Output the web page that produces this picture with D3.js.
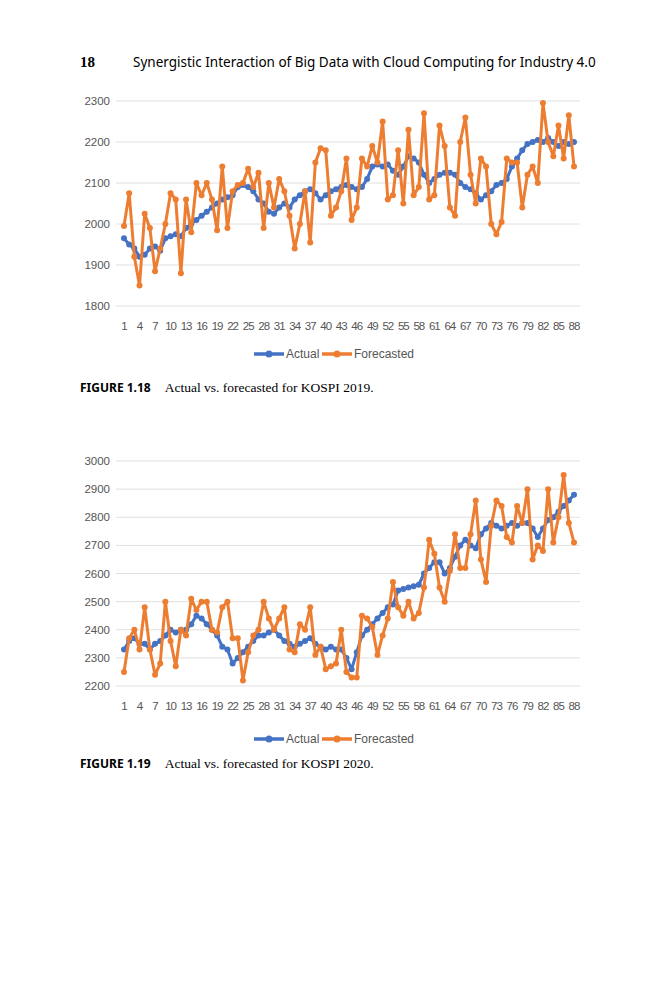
<!DOCTYPE html>
<html><head><meta charset="utf-8">
<script src="https://cdn.jsdelivr.net/npm/d3@7"></script>
<style>body{margin:0;background:#fff}</style>
</head><body><svg width="666" height="1000"></svg>
<script>
// KOSPI 2019 values
const actual2019 = [1965,1950,1940,1920,1925,1940,1945,1935,1965,1970,1975,1970,1990,2000,2010,2020,2030,2040,2050,2060,2065,2070,2090,2095,2090,2080,2060,2050,2030,2025,2040,2050,2040,2060,2070,2080,2085,2075,2060,2070,2080,2085,2090,2095,2090,2085,2090,2110,2140,2145,2140,2145,2130,2120,2140,2165,2160,2150,2120,2100,2110,2120,2125,2125,2120,2100,2090,2085,2075,2060,2070,2080,2095,2100,2110,2140,2160,2180,2195,2200,2205,2200,2210,2200,2190,2200,2195,2200];
const forecast2019 = [1995,2075,1920,1850,2025,1990,1885,1940,2000,2075,2060,1880,2060,1980,2100,2070,2100,2060,1985,2140,1990,2080,2095,2100,2135,2090,2125,1990,2100,2040,2110,2080,2020,1940,2000,2080,1955,2150,2185,2180,2020,2040,2080,2160,2010,2040,2160,2140,2190,2150,2250,2060,2070,2180,2050,2230,2070,2090,2270,2060,2070,2240,2190,2040,2020,2200,2260,2120,2050,2160,2140,2000,1975,2005,2160,2150,2150,2040,2120,2140,2100,2295,2200,2165,2240,2160,2265,2140];
// KOSPI 2020
const actual2020 = [2330,2360,2370,2350,2350,2330,2350,2360,2380,2400,2390,2400,2400,2420,2450,2440,2420,2400,2380,2340,2330,2280,2300,2320,2340,2360,2380,2380,2390,2400,2380,2360,2350,2340,2350,2360,2370,2350,2340,2330,2340,2330,2330,2300,2260,2320,2380,2400,2420,2440,2460,2480,2490,2540,2545,2550,2555,2560,2600,2620,2640,2640,2600,2620,2660,2700,2720,2700,2690,2740,2760,2780,2770,2760,2770,2780,2770,2780,2780,2760,2730,2760,2790,2800,2820,2840,2860,2880];
const forecast2020 = [2250,2370,2400,2330,2480,2330,2240,2280,2500,2360,2270,2400,2380,2510,2470,2500,2500,2400,2390,2480,2500,2370,2370,2220,2320,2380,2400,2500,2440,2400,2440,2480,2330,2320,2420,2400,2480,2310,2340,2260,2270,2280,2400,2250,2230,2230,2450,2440,2410,2310,2380,2440,2570,2480,2450,2500,2440,2460,2550,2720,2670,2550,2500,2610,2740,2620,2620,2740,2860,2650,2570,2770,2860,2840,2730,2710,2840,2780,2900,2650,2700,2680,2900,2710,2800,2950,2780,2710];
const xTicks = d3.range(1, 89, 3);
const ticks2019 = [1800,1900,2000,2100,2200,2300];
const ticks2020 = [2200,2300,2400,2500,2600,2700,2800,2900,3000];

const svg = d3.select("svg");
const blue = "#4472c4", orange = "#ed7d31";

svg.append("text").attr("x", 80).attr("y", 67).attr("font-family", "Liberation Serif")
  .attr("font-weight", "bold").attr("font-size", 15).text("18");
svg.append("text").attr("x", 133).attr("y", 67).attr("font-family", "Noto Sans")
  .attr("font-size", 13.5).text("Synergistic Interaction of Big Data with Cloud Computing for Industry 4.0");

function drawChart(cfg) {
    const x = d3.scaleLinear().domain([1, 88]).range([124, 574]);
    const y = d3.scaleLinear().domain(cfg.domain).range([cfg.bottom, cfg.top]);
    const g = svg.append("g");

    g.selectAll(".grid").data(cfg.ticks).join("line")
      .attr("x1", 116).attr("x2", 580)
      .attr("y1", d => y(d)).attr("y2", d => y(d))
      .attr("stroke", "#e0e0e0").attr("stroke-width", 1);
    g.selectAll(".yl").data(cfg.ticks).join("text")
      .attr("x", 110).attr("y", d => y(d) + 4).attr("text-anchor", "end")
      .attr("font-family", "Liberation Sans").attr("font-size", 11.5).attr("fill", "#555")
      .text(d => d);
    g.selectAll(".xl").data(xTicks).join("text")
      .attr("x", d => x(d)).attr("y", cfg.bottom + 24).attr("text-anchor", "middle")
      .attr("font-family", "Liberation Sans").attr("font-size", 11.5).attr("fill", "#555")
      .attr("letter-spacing", -1).text(d => d);

    const line = d3.line().x((d, i) => x(i + 1)).y(d => y(d));
    [[cfg.actual, blue], [cfg.forecast, orange]].forEach(([vals, col]) => {
        g.append("path").datum(vals).attr("d", line).attr("fill", "none")
          .attr("stroke", col).attr("stroke-width", 3).attr("stroke-linejoin", "round");
        g.selectAll(null).data(vals).join("circle")
          .attr("cx", (d, i) => x(i + 1)).attr("cy", d => y(d)).attr("r", 3).attr("fill", col);
    });

    const ly = cfg.legendY;
    [["Actual", blue, 254], ["Forecasted", orange, 322]].forEach(([t, col, lx]) => {
        g.append("line").attr("x1", lx).attr("x2", lx + 30).attr("y1", ly).attr("y2", ly)
          .attr("stroke", col).attr("stroke-width", 3.5);
        g.append("circle").attr("cx", lx + 15).attr("cy", ly).attr("r", 3.5).attr("fill", col);
        g.append("text").attr("x", lx + 32).attr("y", ly + 4).attr("font-family", "Liberation Sans")
          .attr("font-size", 12).attr("fill", "#555").text(t);
    });

    const cap = g.append("text").attr("x", 80).attr("y", cfg.captionY)
      .attr("font-family", "Liberation Serif").attr("font-size", 13.5);
    cap.append("tspan").attr("font-family", "Noto Sans").attr("font-weight", "bold")
      .attr("font-size", 12).text(cfg.fig);
    cap.append("tspan").attr("dx", 14).text(cfg.caption);
}

drawChart({ actual: actual2019, forecast: forecast2019, domain: [1800, 2300], ticks: ticks2019,
    top: 101, bottom: 306, legendY: 354, captionY: 392,
    fig: "FIGURE 1.18", caption: "Actual vs. forecasted for KOSPI 2019." });
drawChart({ actual: actual2020, forecast: forecast2020, domain: [2200, 3000], ticks: ticks2020,
    top: 461, bottom: 686, legendY: 739, captionY: 768,
    fig: "FIGURE 1.19", caption: "Actual vs. forecasted for KOSPI 2020." });
</script></body></html>
